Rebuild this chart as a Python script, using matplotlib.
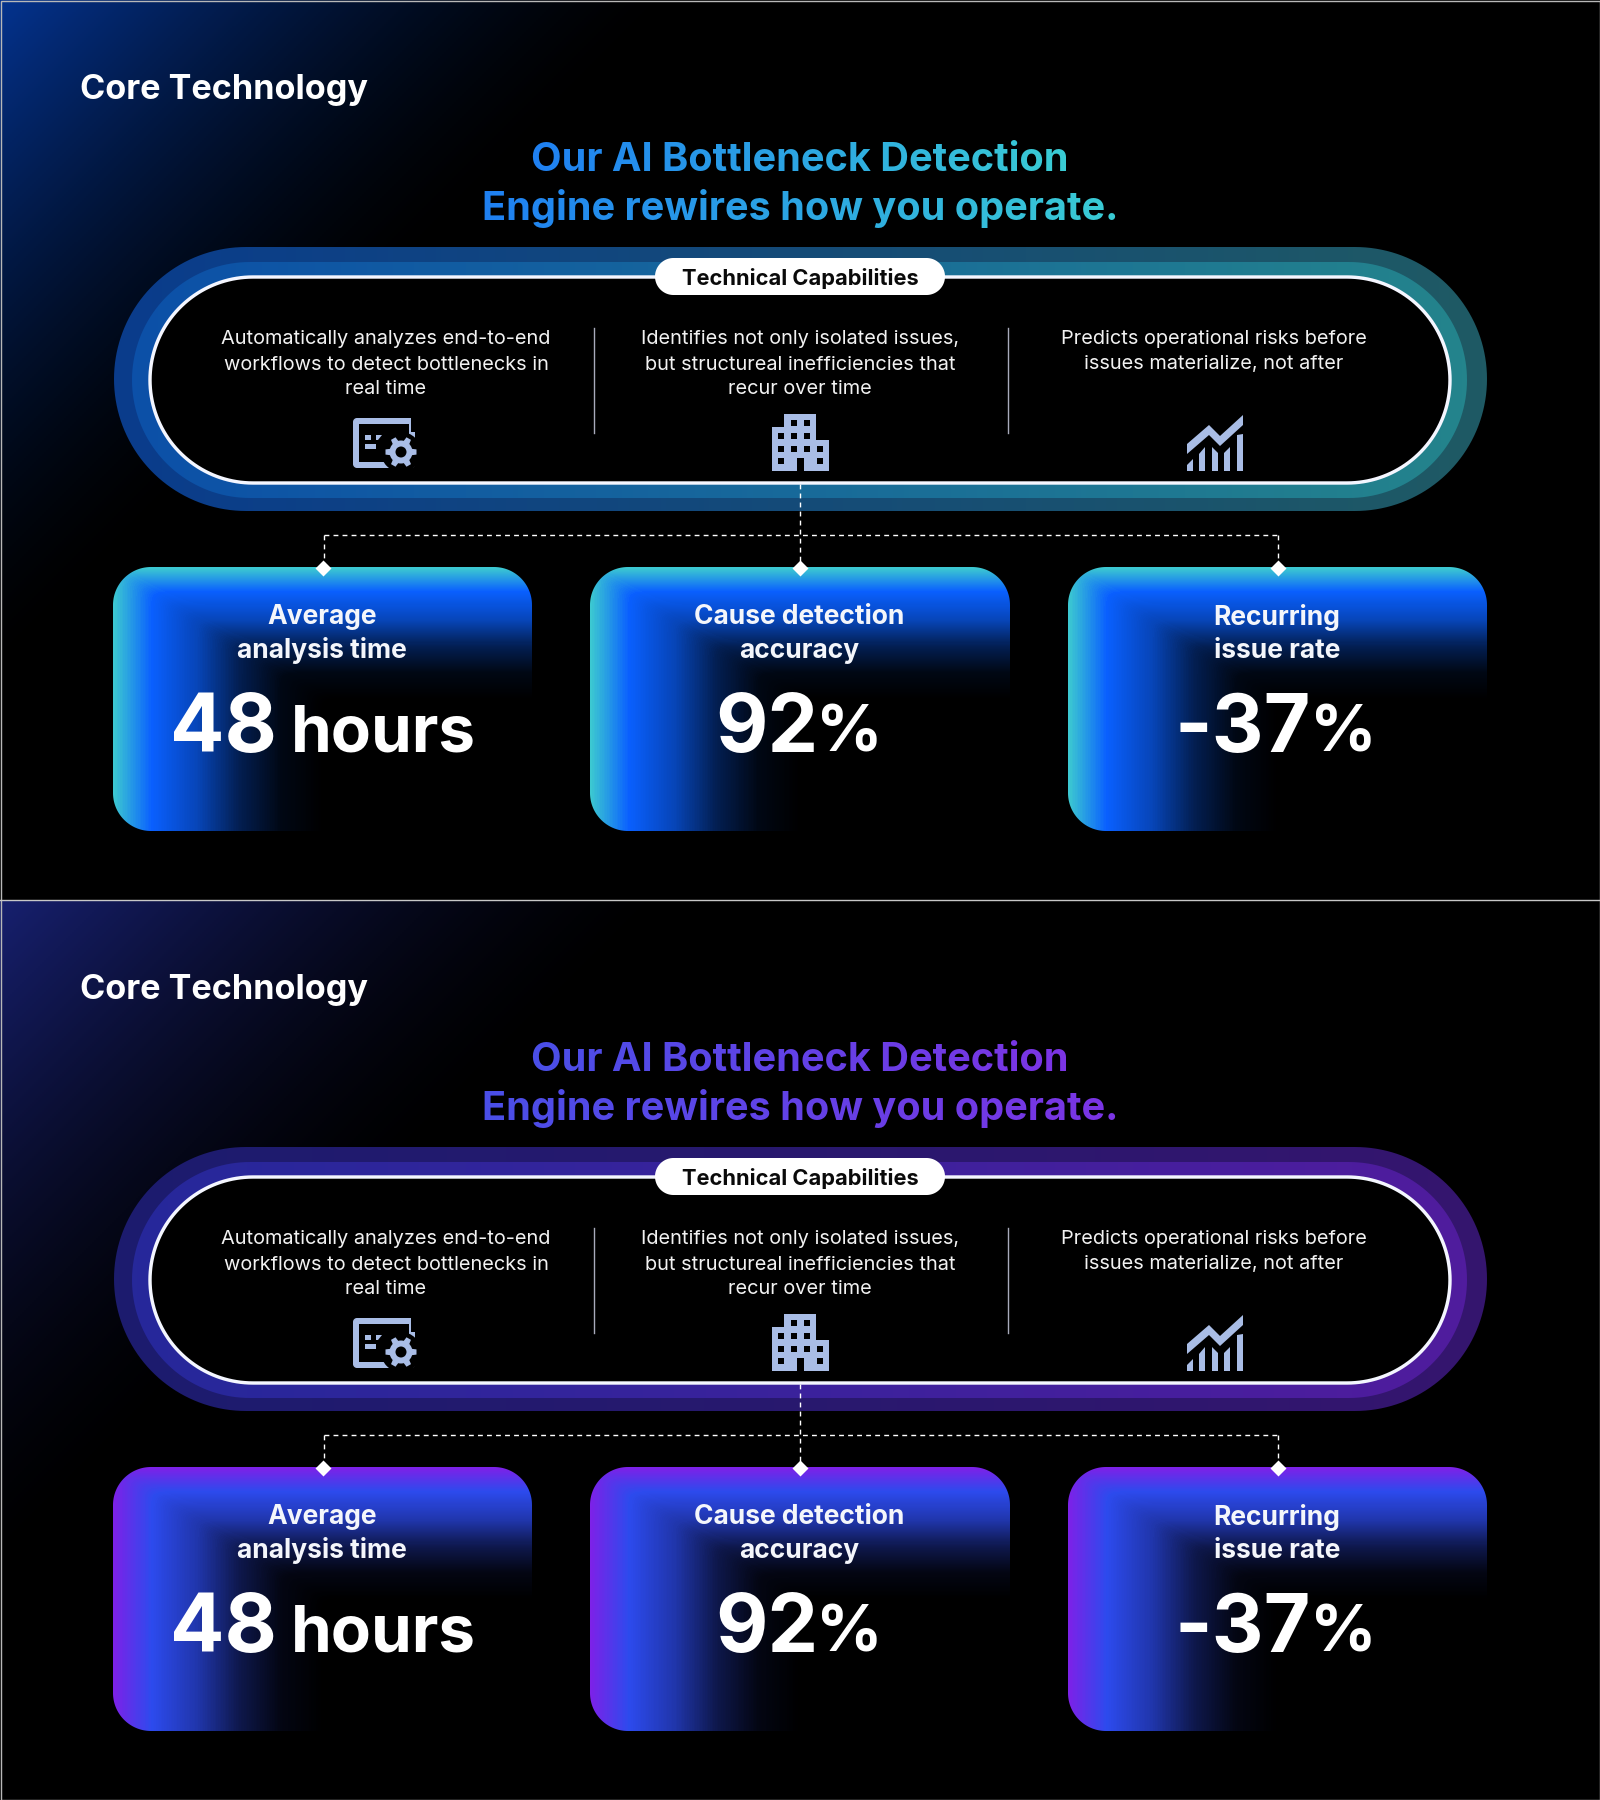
import numpy as np
import matplotlib
matplotlib.use('Agg')
import matplotlib.pyplot as plt
from matplotlib.colors import LinearSegmentedColormap, to_rgb
from matplotlib.patches import Polygon, Rectangle, Circle

plt.rcParams['font.family'] = ['Inter', 'DejaVu Sans']

header = 'Core Technology'
title_lines = ['Our AI Bottleneck Detection', 'Engine rewires how you operate.']
pill_label = 'Technical Capabilities'
capabilities = [
    ['Automatically analyzes end-to-end', 'workflows to detect bottlenecks in', 'real time'],
    ['Identifies not only isolated issues,', 'but structureal inefficiencies that', 'recur over time'],
    ['Predicts operational risks before', 'issues materialize, not after'],
]
card_titles = [['Average', 'analysis time'], ['Cause detection', 'accuracy'], ['Recurring', 'issue rate']]
card_values = ['48', '92', '-37']
card_units = ['hours', '%', '%']

# top panel, bottom panel
glow_colors = ['#04338f', '#17206f']
title_left = ['#1f80f2', '#4a4fe8']
title_right = ['#3accd4', '#7c34e4']
outer_left = ['#0a3c8c', '#1c1c6e']
outer_right = ['#1f5a64', '#35156e']
band_left = ['#0c50a8', '#26289a']
band_right = ['#24848c', '#501c9e']
card_edge = ['#3cc8d2', '#7c22e8']
card_mid = ['#0a60ff', '#2d4bee']

ICON = '#a9bde6'
W, H = 1600, 1800

fig = plt.figure(figsize=(16, 18), dpi=100, facecolor='black')
ax = fig.add_axes([0, 0, 1, 1])
ax.set_axis_off()


def px(size):
    return size * 0.72


def text_gradient(left, right):
    # recolours a text line from left to right, the text itself stays text
    c0 = np.array(to_rgb(left))
    c1 = np.array(to_rgb(right))

    def flt(img, dpi):
        out = img.copy()
        t = np.linspace(0, 1, img.shape[1])[None, :, None]
        out[:, :, :3] = c0 * (1 - t) + c1 * t
        return out, 0, 0
    return flt


def rounded(x0, y0, x1, y1, r, **kw):
    # FancyBboxPatch corners come out squarish, so use true arcs
    pts = []
    corners = [(x1 - r, y0 + r, -90), (x1 - r, y1 - r, 0), (x0 + r, y1 - r, 90), (x0 + r, y0 + r, 180)]
    for cx, cy, start in corners:
        a = np.radians(np.linspace(start, start + 90, 40))
        pts.extend(zip(cx + r * np.cos(a), cy + r * np.sin(a)))
    return Polygon(pts, closed=True, **kw)


def hgrad_pill(x0, y0, x1, y1, r, left, right):
    cmap = LinearSegmentedColormap.from_list('p', [left, right])
    im = ax.imshow(np.linspace(0, 1, 256)[None, :], cmap=cmap, aspect='auto',
                   extent=(x0, x1, y1, y0), zorder=2)
    patch = rounded(x0, y0, x1, y1, r, fc='none', ec='none')
    ax.add_patch(patch)
    im.set_clip_path(patch)


def card(x0, y0, x1, y1, edge, mid):
    m = np.array(to_rgb(mid))
    cmap = LinearSegmentedColormap.from_list(
        'c', [(0, edge), (0.09, mid), (0.2, m * 0.72), (0.3, m * 0.32), (0.4, m * 0.08),
              (0.5, '#000000'), (1, '#000000')])
    nx, ny = int(x1 - x0), int(y1 - y0)
    tx = np.linspace(0, 1, nx)[None, :]
    ty = np.linspace(0, 1, ny)[:, None]
    # soft minimum, the two edge gradients meet without a hard mitre
    k = 70
    tt = -np.log(np.exp(-k * tx) + np.exp(-k * ty)) / k
    im = ax.imshow(np.clip(tt, 0, 1), cmap=cmap, vmin=0, vmax=1, aspect='auto',
                   extent=(x0, x1, y1, y0), zorder=2)
    patch = rounded(x0, y0, x1, y1, 38, fc='none', ec='none')
    ax.add_patch(patch)
    im.set_clip_path(patch)


def icon_screen(cx, cy):
    ax.add_patch(rounded(cx - 32, cy - 25, cx + 30, cy + 25, 4, fc=ICON, ec='none', zorder=5))
    ax.add_patch(Rectangle((cx - 26, cy - 19), 50, 38, fc='black', ec='none', zorder=5))
    ax.add_patch(Rectangle((cx - 20, cy - 8), 6, 5, fc=ICON, ec='none', zorder=6))
    ax.add_patch(Polygon([(cx - 9, cy - 8), (cx - 3, cy - 8), (cx - 7, cy - 3), (cx - 9, cy - 3)],
                         fc=ICON, ec='none', zorder=6))
    ax.add_patch(Rectangle((cx - 20, cy + 1), 11, 5, fc=ICON, ec='none', zorder=6))
    gx, gy = cx + 16, cy + 9
    ax.add_patch(Circle((gx, gy), 20, fc='black', ec='none', zorder=6))
    ax.add_patch(Rectangle((cx + 26, cy - 25), 8, 14, fc='black', ec='none', zorder=6))
    ax.add_patch(Circle((gx, gy), 11.5, fc=ICON, ec='none', zorder=7))
    for k in range(6):
        a = np.pi / 3 * k + np.pi / 6
        ca, sa = np.cos(a), np.sin(a)
        pts = [(-3.4, 9), (3.4, 9), (2.6, 15.5), (-2.6, 15.5)]
        ax.add_patch(Polygon([(gx + u * ca + v * sa, gy + u * sa - v * ca) for u, v in pts],
                             fc=ICON, ec='none', zorder=7))
    ax.add_patch(Circle((gx, gy), 5.5, fc='black', ec='none', zorder=8))


def icon_building(cx, cy):
    # cx, cy is the middle of the building
    x0, y0 = cx - 28.5, cy - 28.5
    for bx, by, bw, bh in [(12, 0, 32, 57), (0, 13, 13, 44), (43, 26, 14, 31)]:
        ax.add_patch(Rectangle((x0 + bx, y0 + by), bw, bh, fc=ICON, ec='none', zorder=5))
    cols = [9, 22, 35, 48]
    rows = [[1, 2], [0, 1, 2], [0, 1, 2, 3], [0, 3]]
    for ry, row in zip([9, 22, 35, 47], rows):
        for c in row:
            ax.add_patch(Rectangle((x0 + cols[c] - 3, y0 + ry - 3), 6.5, 6.5, fc='black', ec='none', zorder=6))
    ax.add_patch(Rectangle((x0 + 25, y0 + 44), 7, 13, fc='black', ec='none', zorder=6))


def icon_chart(cx, cy):
    x0, y0 = cx - 28, cy - 28
    shapes = [
        [(0, 29), (22, 10), (33, 21), (56, 0), (56, 10), (33, 31), (22, 20), (0, 39)],
        [(0, 56), (0, 50), (6, 44), (6, 56)],
        [(12, 56), (12, 39), (18, 32), (18, 56)],
        [(25, 56), (25, 32), (31, 38), (31, 56)],
        [(37, 56), (37, 38), (43, 32), (43, 56)],
        [(50, 56), (50, 20), (56, 19), (56, 56)],
    ]
    for pts in shapes:
        ax.add_patch(Polygon([(x0 + u, y0 + v) for u, v in pts], fc=ICON, ec='none', zorder=5))


col_x = [386, 800, 1214]
divider_x = [593.5, 1008]
line_y = [339.5, 364.5, 389.5]
card_x = [(113, 532), (590, 1010), (1068, 1487)]
icons = [(icon_screen, 385, 443), (icon_building, 800, 442), (icon_chart, 1215, 443)]
value_pos = [(170, 291), (715, 816), (1175, 1310)]

for p, oy in enumerate([0, 900]):
    # corner glow
    xx, yy = np.meshgrid(np.linspace(0, 1, 800), np.linspace(0, 1, 450))
    tt = np.clip((xx * 1600 + yy * 900) / 680, 0, 1)
    glow = LinearSegmentedColormap.from_list('g', [glow_colors[p], '#000000'])
    ax.imshow(1 - (1 - tt) ** 1.5, cmap=glow, vmin=0, vmax=1, aspect='auto',
              extent=(0, 1600, oy + 900, oy), zorder=1)

    ax.text(80, oy + 89.5, header, color='white', fontsize=px(34.2), fontweight='bold',
            ha='left', va='center', zorder=5)
    for line, y in zip(title_lines, [160.5, 209]):
        t = ax.text(800, oy + y, line, color='white', fontsize=px(39.7), fontweight='bold',
                    ha='center', va='center', zorder=5)
        t.set_agg_filter(text_gradient(title_left[p], title_right[p]))

    hgrad_pill(114, oy + 247, 1487, oy + 511, 132, outer_left[p], outer_right[p])
    hgrad_pill(132, oy + 262, 1467, oy + 498, 118, band_left[p], band_right[p])
    ax.add_patch(rounded(150, oy + 277, 1450, oy + 483, 103, fc='black', ec='#f4f6ff',
                         lw=px(3.4), zorder=3))
    ax.add_patch(rounded(655, oy + 258, 945, oy + 295, 18.5, fc='white', ec='none', zorder=4))
    ax.text(800, oy + 278.5, pill_label, color='#0a0a0a', fontsize=px(21.8), fontweight='bold',
            ha='center', va='center', zorder=5)

    for x, lines in zip(col_x, capabilities):
        for line, y in zip(lines, line_y):
            ax.text(x, oy + y, line, color='#f2f2f2', fontsize=px(19.95), ha='center', va='center', zorder=5)
    for x in divider_x:
        ax.plot([x, x], [oy + 328, oy + 433], color='#a8aabb', lw=1, zorder=5)
    for draw, cx, cy in icons:
        draw(cx, oy + cy)

    dash = dict(color='white', lw=1.0, ls=(0, (3.5, 3)), zorder=4)
    ax.plot([800, 800], [oy + 484, oy + 566], **dash)
    ax.plot([323.5, 1278], [oy + 535, oy + 535], **dash)
    ax.plot([323.5, 323.5], [oy + 535, oy + 566], **dash)
    ax.plot([1278, 1278], [oy + 535, oy + 566], **dash)

    for i, (x0, x1) in enumerate(card_x):
        card(x0, oy + 567, x1, oy + 831, card_edge[p], card_mid[p])
        mx = (x0 + x1) / 2
        ax.plot([mx], [oy + 568], marker='D', ms=8.5, color='white', mec='none', zorder=6)
        for line, y in zip(card_titles[i], [617.5, 651]):
            ax.text(mx - 0.5, oy + y, line, color='#f4f6fb', fontsize=px(26.4), fontweight='bold',
                    ha='center', va='center', zorder=5)
        vx, ux = value_pos[i]
        ax.text(vx, oy + 752, card_values[i], color='white', fontsize=px(80.5), fontweight='bold',
                ha='left', va='baseline', zorder=5)
        ax.text(ux, oy + 752, card_units[i], color='white', fontsize=px(65.5), fontweight='bold',
                ha='left', va='baseline', zorder=5)

# thin frame round the whole picture and the line between the panels
ax.add_patch(Rectangle((0.5, 0.5), W - 1, H - 1, fc='none', ec='#b8b8b8', lw=1, zorder=9))
ax.plot([0, W], [900, 900], color='#c8c8c8', lw=1, zorder=9)

ax.set_xlim(0, W)
ax.set_ylim(H, 0)
fig.savefig('out.png', dpi=100, facecolor='black')
